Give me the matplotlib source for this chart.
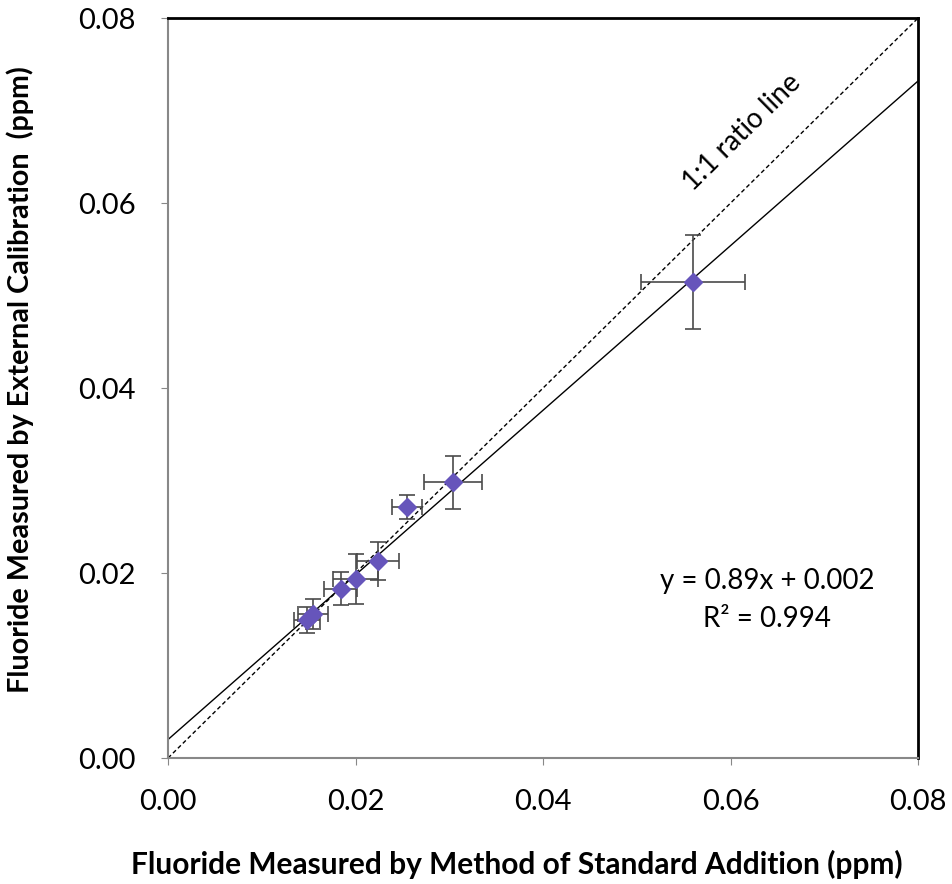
import matplotlib.pyplot as plt
import numpy as np

# fluoride values (ppm)
std_addition = [0.0148, 0.0155, 0.0184, 0.0200, 0.0224, 0.0255, 0.0304, 0.0560]
ext_calib = [0.0149, 0.0156, 0.0183, 0.0194, 0.0213, 0.0271, 0.0298, 0.0515]
x_err = [0.0014, 0.0016, 0.0018, 0.0024, 0.0022, 0.0016, 0.0031, 0.0055]
y_err = [0.0014, 0.0016, 0.0018, 0.0027, 0.0021, 0.0013, 0.0029, 0.0051]

slope = 0.89
intercept = 0.002
r2 = 0.994
ticks = [0.00, 0.02, 0.04, 0.06, 0.08]

plt.rcParams['font.family'] = ['Lato', 'DejaVu Sans']

fig = plt.figure(figsize=(9.53, 8.84), dpi=100)
ax = fig.add_axes([0.1763, 0.1425, 0.787, 0.837])

ax.errorbar(std_addition, ext_calib, xerr=x_err, yerr=y_err, fmt='D',
            color='#6655bb', markersize=9, ecolor='#4a4a4a', elinewidth=1.2,
            capsize=6, capthick=1.2, zorder=3)

line_x = np.array([0.0, 0.08])
ax.plot(line_x, line_x, '--', color='black', linewidth=1, dashes=(3, 2))
ax.plot(line_x, slope * line_x + intercept, '-', color='black', linewidth=1)

ax.text(0.0612, 0.0676, '1:1 ratio line', rotation=44.6, fontsize=20,
        ha='center', va='center', rotation_mode='anchor')
ax.text(0.0639, 0.0191, 'y = %.2fx + %.3f' % (slope, intercept), fontsize=20,
        ha='center', va='center')
ax.text(0.0639, 0.0150, 'R² = %.3f' % r2, fontsize=20, ha='center', va='center')

ax.set_xlim(0, 0.08)
ax.set_ylim(0, 0.08)
ax.set_xticks(ticks)
ax.set_yticks(ticks)
ax.set_xticklabels(['%.2f' % t for t in ticks])
ax.set_yticklabels(['%.2f' % t for t in ticks])
ax.tick_params(labelsize=21, direction='out', length=5, color='#888888')
ax.tick_params(axis='x', pad=17)
ax.tick_params(axis='y', pad=18)

for side in ['top', 'right']:
    ax.spines[side].set_linewidth(2)
    ax.spines[side].set_color('black')
for side in ['left', 'bottom']:
    ax.spines[side].set_linewidth(1.5)
    ax.spines[side].set_color('#888888')

ax.set_xlabel('Fluoride Measured by Method of Standard Addition (ppm)',
              fontsize=21.5, fontweight='bold')
ax.xaxis.set_label_coords(0.465, -0.124)
ax.set_ylabel('Fluoride Measured by External Calibration  (ppm)',
              fontsize=20.7, fontweight='bold')
ax.yaxis.set_label_coords(-0.179, 0.511)

fig.savefig('out.png', dpi=100)
